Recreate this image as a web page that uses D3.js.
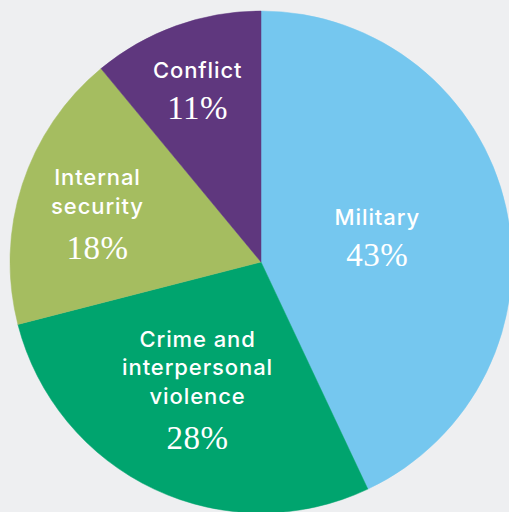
<!DOCTYPE html>
<html>
<head>
<meta charset="utf-8">
<script src="https://cdn.jsdelivr.net/npm/d3@7"></script>
<style>
  html, body { margin: 0; padding: 0; background: #eeeff1; }
  svg { display: block; }
  .name { font-family: Inter, "Noto Sans", sans-serif; font-weight: 500; font-size: 22px; fill: #fff; letter-spacing: 0.9px; }
  .pct { font-family: "Liberation Serif", "DejaVu Serif", serif; font-size: 33px; fill: #fff; letter-spacing: 0.5px; }
</style>
</head>
<body>
<div id="chart"></div>
<script>
const WIDTH = 509
const HEIGHT = 512
const CX = 261
const CY = 262
const RADIUS = 251

// Share of spending by category (percent), clockwise from 12 o'clock
const categories = ['Military', 'Crime and interpersonal violence', 'Internal security', 'Conflict']
const values = [43, 28, 18, 11]
const colors = ['#75c7ef', '#00a46e', '#a5bd60', '#5f377e']
const nameLines = [['Military'], ['Crime and', 'interpersonal', 'violence'], ['Internal', 'security'], ['Conflict']]

// Label anchor (first line baseline) as [angle in degrees clockwise from top, fraction of radius]
const LABEL_ANCHOR = [[72.4, 0.486], [216.8, 0.422], [295.2, 0.72], [341, 0.775]]
const LINE_HEIGHT = 28.5
const PCT_GAP = 41

const svg = d3.select('#chart')
    .append('svg')
    .attr('width', WIDTH)
    .attr('height', HEIGHT)

const g = svg.append('g')
    .attr('transform', `translate(${CX},${CY})`)

const pie = d3.pie().sort(null).value(d => d)
const arc = d3.arc().innerRadius(0).outerRadius(RADIUS)

const slices = pie(values)

g.selectAll('.slice')
    .data(slices)
    .enter()
    .append('path')
    .attr('class', 'slice')
    .attr('d', arc)
    .attr('fill', (d, i) => colors[i])
    .attr('stroke', (d, i) => colors[i])
    .attr('stroke-width', 0.5)

const labels = g.selectAll('.label')
    .data(slices)
    .enter()
    .append('g')
    .attr('class', 'label')
    .attr('transform', (d, i) => {
        const a = LABEL_ANCHOR[i][0] * Math.PI / 180
        const r = LABEL_ANCHOR[i][1] * RADIUS
        return `translate(${r * Math.sin(a)},${-r * Math.cos(a)})`
    })

labels.each(function (d, i) {
    const el = d3.select(this)
    nameLines[i].forEach((line, j) => {
        el.append('text')
            .attr('class', 'name')
            .attr('text-anchor', 'middle')
            .attr('y', j * LINE_HEIGHT)
            .text(line)
    })
    el.append('text')
        .attr('class', 'pct')
        .attr('text-anchor', 'middle')
        .attr('y', (nameLines[i].length - 1) * LINE_HEIGHT + PCT_GAP + (nameLines[i].length > 1 ? 4 : 0))
        .text(d3.format('d')(values[i]) + '%')
})
</script>
</body>
</html>
